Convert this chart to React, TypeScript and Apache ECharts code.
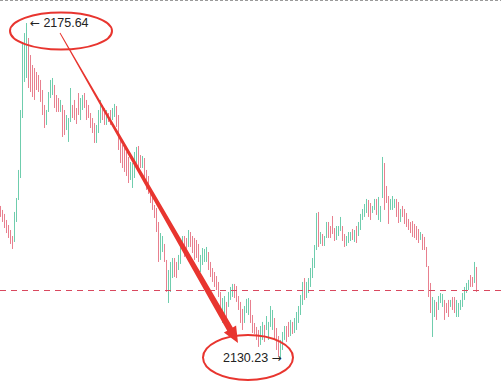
import React, { useEffect, useRef } from "react";
import * as echarts from "echarts";

// [open, close, low, high]
const candles: number[][] = [
  [2150.64, 2149.55, 2149.35, 2150.84],
  [2150.10, 2148.87, 2148.67, 2150.30],
  [2149.56, 2148.05, 2147.85, 2149.76],
  [2148.74, 2147.37, 2147.17, 2148.94],
  [2148.06, 2146.70, 2146.50, 2148.26],
  [2147.38, 2145.89, 2145.69, 2147.58],
  [2146.57, 2145.21, 2145.01, 2146.77],
  [2146.16, 2149.83, 2145.96, 2150.03],
  [2148.87, 2151.72, 2148.67, 2151.92],
  [2151.85, 2155.52, 2151.65, 2155.72],
  [2154.83, 2163.65, 2154.63, 2163.85],
  [2162.96, 2172.87, 2162.76, 2173.07],
  [2167.85, 2174.08, 2167.65, 2174.28],
  [2168.39, 2174.90, 2168.19, 2175.64],
  [2173.41, 2167.03, 2166.83, 2173.61],
  [2171.10, 2166.49, 2166.29, 2171.30],
  [2169.75, 2165.81, 2165.61, 2169.95],
  [2169.34, 2165.41, 2165.21, 2169.54],
  [2168.80, 2166.76, 2166.56, 2169.00],
  [2168.39, 2166.49, 2166.29, 2168.59],
  [2167.72, 2165.14, 2164.94, 2167.92],
  [2166.36, 2163.37, 2163.17, 2166.56],
  [2164.33, 2161.61, 2161.41, 2164.53],
  [2162.02, 2163.65, 2161.82, 2163.85],
  [2163.78, 2166.09, 2163.58, 2166.29],
  [2165.67, 2167.72, 2165.47, 2167.92],
  [2166.08, 2167.99, 2165.88, 2168.19],
  [2167.04, 2164.32, 2164.12, 2167.24],
  [2165.68, 2163.78, 2163.58, 2165.88],
  [2165.27, 2163.78, 2163.58, 2165.47],
  [2163.78, 2165.01, 2163.58, 2165.21],
  [2164.33, 2160.39, 2160.19, 2164.53],
  [2163.65, 2160.66, 2160.46, 2163.85],
  [2161.34, 2162.97, 2161.14, 2163.17],
  [2159.72, 2162.56, 2159.52, 2162.76],
  [2162.42, 2166.63, 2162.22, 2166.83],
  [2164.33, 2162.96, 2162.76, 2164.53],
  [2165.01, 2162.69, 2162.49, 2165.21],
  [2163.92, 2162.15, 2161.95, 2164.12],
  [2165.95, 2163.37, 2163.17, 2166.15],
  [2162.69, 2165.27, 2162.49, 2165.47],
  [2164.05, 2165.68, 2163.85, 2165.88],
  [2165.95, 2164.32, 2164.12, 2166.15],
  [2165.01, 2162.69, 2162.49, 2165.21],
  [2164.33, 2162.96, 2162.76, 2164.53],
  [2163.24, 2161.61, 2161.41, 2163.44],
  [2162.56, 2160.93, 2160.73, 2162.76],
  [2161.88, 2159.58, 2159.38, 2162.08],
  [2159.58, 2161.62, 2159.38, 2161.82],
  [2160.93, 2163.65, 2160.73, 2163.85],
  [2162.28, 2165.01, 2162.08, 2165.21],
  [2164.33, 2162.69, 2162.49, 2164.53],
  [2163.92, 2162.02, 2161.82, 2164.12],
  [2162.02, 2163.65, 2161.82, 2163.85],
  [2163.24, 2162.42, 2162.22, 2163.44],
  [2163.65, 2162.02, 2161.82, 2163.85],
  [2162.69, 2163.92, 2162.49, 2164.12],
  [2163.10, 2164.47, 2162.90, 2164.67],
  [2164.19, 2161.75, 2161.55, 2164.39],
  [2162.97, 2158.63, 2158.43, 2163.17],
  [2159.86, 2156.86, 2156.66, 2160.06],
  [2158.91, 2156.19, 2155.99, 2159.11],
  [2158.50, 2155.65, 2155.45, 2158.70],
  [2157.96, 2155.10, 2154.90, 2158.16],
  [2157.28, 2154.15, 2153.95, 2157.48],
  [2154.56, 2156.60, 2154.36, 2156.80],
  [2153.48, 2156.46, 2153.28, 2156.66],
  [2154.83, 2157.96, 2154.63, 2158.16],
  [2156.60, 2158.64, 2156.40, 2158.84],
  [2158.77, 2156.33, 2156.13, 2158.97],
  [2157.55, 2156.19, 2155.99, 2157.75],
  [2156.19, 2157.41, 2155.99, 2157.61],
  [2157.14, 2154.56, 2154.36, 2157.34],
  [2155.52, 2153.21, 2153.01, 2155.72],
  [2154.70, 2152.67, 2152.47, 2154.90],
  [2153.08, 2151.44, 2151.24, 2153.28],
  [2151.99, 2150.50, 2150.30, 2152.19],
  [2150.77, 2149.41, 2149.21, 2150.97],
  [2150.37, 2147.51, 2147.31, 2150.57],
  [2148.47, 2143.45, 2143.25, 2148.67],
  [2143.72, 2146.97, 2143.52, 2147.17],
  [2144.80, 2146.57, 2144.60, 2146.77],
  [2145.49, 2143.45, 2143.25, 2145.69],
  [2143.32, 2139.38, 2139.18, 2143.52],
  [2137.89, 2141.96, 2137.69, 2142.16],
  [2139.38, 2143.05, 2139.18, 2143.25],
  [2141.27, 2143.59, 2141.07, 2143.79],
  [2143.59, 2141.41, 2141.21, 2143.79],
  [2143.05, 2141.27, 2141.07, 2143.25],
  [2142.36, 2144.00, 2142.16, 2144.20],
  [2143.18, 2145.21, 2142.98, 2145.41],
  [2145.07, 2146.57, 2144.87, 2146.77],
  [2146.57, 2144.13, 2143.93, 2146.77],
  [2146.30, 2144.80, 2144.60, 2146.50],
  [2145.48, 2147.38, 2145.28, 2147.58],
  [2147.11, 2145.48, 2145.28, 2147.31],
  [2146.57, 2144.66, 2144.46, 2146.77],
  [2146.30, 2143.72, 2143.52, 2146.50],
  [2146.03, 2143.99, 2143.79, 2146.23],
  [2145.49, 2143.45, 2143.25, 2145.69],
  [2142.09, 2144.00, 2141.89, 2144.20],
  [2143.04, 2144.94, 2142.84, 2145.14],
  [2143.45, 2144.81, 2143.25, 2145.01],
  [2143.45, 2145.08, 2143.25, 2145.28],
  [2144.40, 2142.36, 2142.16, 2144.60],
  [2143.05, 2141.41, 2141.21, 2143.25],
  [2142.23, 2140.74, 2140.54, 2142.43],
  [2141.69, 2140.06, 2139.86, 2141.89],
  [2141.14, 2139.65, 2139.45, 2141.34],
  [2140.34, 2138.70, 2138.50, 2140.54],
  [2138.98, 2136.94, 2136.74, 2139.18],
  [2135.18, 2138.16, 2134.98, 2138.36],
  [2135.99, 2138.43, 2135.79, 2138.63],
  [2137.63, 2135.59, 2135.39, 2137.83],
  [2137.35, 2138.98, 2137.15, 2139.18],
  [2138.30, 2139.66, 2138.10, 2139.86],
  [2138.70, 2140.07, 2138.50, 2140.27],
  [2140.07, 2138.56, 2138.36, 2140.27],
  [2139.79, 2138.03, 2137.83, 2139.99],
  [2138.43, 2136.94, 2136.74, 2138.63],
  [2137.63, 2135.18, 2134.98, 2137.83],
  [2136.68, 2134.23, 2134.03, 2136.88],
  [2135.18, 2137.08, 2134.98, 2137.28],
  [2136.53, 2138.04, 2136.33, 2138.24],
  [2136.26, 2138.16, 2136.06, 2138.36],
  [2137.90, 2135.18, 2134.98, 2138.10],
  [2135.86, 2133.82, 2133.62, 2136.06],
  [2134.78, 2133.69, 2133.49, 2134.98],
  [2134.24, 2132.88, 2132.68, 2134.44],
  [2133.83, 2131.93, 2131.73, 2134.03],
  [2132.20, 2134.37, 2132.00, 2134.57],
  [2132.88, 2134.92, 2132.68, 2135.12],
  [2134.51, 2132.61, 2132.41, 2134.71],
  [2134.23, 2135.72, 2134.03, 2135.92],
  [2132.88, 2134.92, 2132.68, 2135.12],
  [2134.64, 2137.08, 2134.44, 2137.28],
  [2134.23, 2136.54, 2134.03, 2136.74],
  [2135.45, 2132.88, 2132.68, 2135.65],
  [2134.10, 2131.52, 2131.32, 2134.30],
  [2133.01, 2130.70, 2130.50, 2133.21],
  [2130.43, 2132.48, 2130.23, 2132.68],
  [2131.52, 2133.56, 2131.32, 2133.76],
  [2132.88, 2134.37, 2132.68, 2134.57],
  [2134.37, 2132.61, 2132.41, 2134.57],
  [2134.92, 2133.28, 2133.08, 2135.12],
  [2133.41, 2135.19, 2133.21, 2135.39],
  [2134.92, 2133.69, 2133.49, 2135.12],
  [2133.82, 2135.45, 2133.62, 2135.65],
  [2134.23, 2136.27, 2134.03, 2136.47],
  [2135.18, 2137.08, 2134.98, 2137.28],
  [2136.26, 2138.57, 2136.06, 2138.77],
  [2137.62, 2140.34, 2137.42, 2140.54],
  [2140.87, 2138.30, 2138.10, 2141.07],
  [2138.56, 2140.34, 2138.36, 2140.54],
  [2139.24, 2140.87, 2139.04, 2141.07],
  [2140.06, 2142.23, 2139.86, 2142.43],
  [2141.27, 2143.59, 2141.07, 2143.79],
  [2142.63, 2145.35, 2142.43, 2145.55],
  [2145.07, 2149.69, 2144.87, 2149.89],
  [2149.83, 2145.48, 2145.28, 2150.03],
  [2145.89, 2147.11, 2145.69, 2147.31],
  [2146.84, 2145.61, 2145.41, 2147.04],
  [2145.61, 2146.57, 2145.41, 2146.77],
  [2146.70, 2148.47, 2146.50, 2148.67],
  [2148.47, 2146.70, 2146.50, 2148.67],
  [2147.92, 2146.70, 2146.50, 2148.12],
  [2149.28, 2147.24, 2147.04, 2149.48],
  [2147.65, 2146.29, 2146.09, 2147.85],
  [2146.43, 2147.92, 2146.23, 2148.12],
  [2146.97, 2147.92, 2146.77, 2148.12],
  [2147.64, 2149.15, 2147.44, 2149.35],
  [2147.92, 2146.29, 2146.09, 2148.12],
  [2146.84, 2145.48, 2145.28, 2147.04],
  [2145.61, 2146.57, 2145.41, 2146.77],
  [2146.02, 2147.11, 2145.82, 2147.31],
  [2146.29, 2147.11, 2146.09, 2147.31],
  [2147.52, 2146.43, 2146.23, 2147.72],
  [2146.16, 2147.38, 2145.96, 2147.58],
  [2147.92, 2146.02, 2145.82, 2148.12],
  [2146.97, 2148.47, 2146.77, 2148.67],
  [2147.78, 2149.56, 2147.58, 2149.76],
  [2149.14, 2150.23, 2148.94, 2150.43],
  [2149.55, 2150.91, 2149.35, 2151.11],
  [2150.09, 2151.59, 2149.89, 2151.79],
  [2151.45, 2149.55, 2149.35, 2151.65],
  [2151.04, 2149.14, 2148.94, 2151.24],
  [2150.09, 2150.64, 2149.89, 2150.84],
  [2150.50, 2151.59, 2150.30, 2151.79],
  [2151.59, 2149.82, 2149.62, 2151.79],
  [2149.14, 2151.86, 2148.94, 2152.06],
  [2148.87, 2150.64, 2148.67, 2150.84],
  [2152.12, 2157.28, 2151.92, 2157.48],
  [2156.46, 2150.50, 2150.30, 2156.66],
  [2153.35, 2151.44, 2151.24, 2153.55],
  [2151.99, 2148.60, 2148.40, 2152.19],
  [2150.50, 2151.59, 2150.30, 2151.79],
  [2150.50, 2151.99, 2150.30, 2152.19],
  [2150.77, 2151.59, 2150.57, 2151.79],
  [2151.59, 2149.55, 2149.35, 2151.79],
  [2151.18, 2148.73, 2148.53, 2151.38],
  [2148.87, 2150.23, 2148.67, 2150.43],
  [2150.64, 2149.55, 2149.35, 2150.84],
  [2150.23, 2148.60, 2148.40, 2150.43],
  [2149.69, 2148.19, 2147.99, 2149.89],
  [2148.88, 2147.78, 2147.58, 2149.08],
  [2148.47, 2147.37, 2147.17, 2148.67],
  [2148.60, 2146.84, 2146.64, 2148.80],
  [2148.20, 2146.70, 2146.50, 2148.40],
  [2147.92, 2146.43, 2146.23, 2148.12],
  [2147.52, 2146.02, 2145.82, 2147.72],
  [2146.43, 2147.11, 2146.23, 2147.31],
  [2146.84, 2145.07, 2144.87, 2147.04],
  [2146.44, 2145.07, 2144.87, 2146.64],
  [2145.08, 2142.77, 2142.57, 2145.28],
  [2142.50, 2138.70, 2138.50, 2142.70],
  [2140.20, 2136.53, 2136.33, 2140.40],
  [2133.28, 2138.30, 2133.08, 2138.50],
  [2135.99, 2137.90, 2135.79, 2138.10],
  [2137.63, 2135.59, 2135.39, 2137.83],
  [2136.94, 2138.43, 2136.74, 2138.63],
  [2137.89, 2138.84, 2137.69, 2139.04],
  [2137.35, 2138.71, 2137.15, 2138.91],
  [2137.90, 2135.59, 2135.39, 2138.10],
  [2137.49, 2136.53, 2136.33, 2137.69],
  [2137.90, 2135.99, 2135.79, 2138.10],
  [2137.35, 2137.90, 2137.15, 2138.10],
  [2138.30, 2136.94, 2136.74, 2138.50],
  [2138.30, 2136.53, 2136.33, 2138.50],
  [2135.99, 2137.90, 2135.79, 2138.10],
  [2135.99, 2137.49, 2135.79, 2137.69],
  [2136.94, 2137.90, 2136.74, 2138.10],
  [2137.35, 2138.84, 2137.15, 2139.04],
  [2138.30, 2139.66, 2138.10, 2139.86],
  [2139.24, 2140.20, 2139.04, 2140.40],
  [2139.65, 2140.61, 2139.45, 2140.81],
  [2141.28, 2140.06, 2139.86, 2141.48],
  [2141.01, 2140.06, 2139.86, 2141.21],
  [2140.60, 2143.05, 2140.40, 2143.25],
  [2142.37, 2139.45, 2139.18, 2142.57],
];

const categories: string[] = candles.map((_, i) => String(i));

const highValue = "2175.64";
const lowValue = "2130.23";
const lastPrice = candles[candles.length - 1][1];

const yMin = 2126.57;
const yMax = 2178.76;

const UP = "#6fcdad";
const DOWN = "#e8808f";
const RED = "#e8352f";

const NUM_FONT = "Liberation Sans, Arial, sans-serif";
const ARROW_FONT = "DejaVu Sans, sans-serif";

export default function App() {
  const ref = useRef<HTMLDivElement>(null);

  useEffect(() => {
    document.body.style.margin = "0";
    if (!ref.current) return;
    const chart = echarts.init(ref.current, undefined, { renderer: "svg" });
    chart.setOption({
      animation: false,
      backgroundColor: "#ffffff",
      grid: { left: 0, right: 23, top: 0, bottom: 0 },
      xAxis: {
        type: "category",
        data: categories,
        show: false,
        boundaryGap: true,
      },
      yAxis: {
        type: "value",
        min: yMin,
        max: yMax,
        show: false,
        splitLine: { show: false },
      },
      series: [
        {
          type: "candlestick",
          data: candles,
          barWidth: 1,
          itemStyle: {
            color: UP,
            color0: DOWN,
            borderColor: UP,
            borderColor0: DOWN,
            borderWidth: 1,
          },
        },
      ],
    });

    const yLast = chart.convertToPixel({ yAxisIndex: 0 }, lastPrice) as number;

    const rich = {
      a: { fontFamily: ARROW_FONT, fontSize: 12, fill: "#222222" },
      b: { fontFamily: NUM_FONT, fontSize: 12.5, fill: "#222222" },
    };

    chart.setOption({
      graphic: [
        {
          type: "line",
          shape: { x1: 0, y1: 0.5, x2: 501, y2: 0.5 },
          style: { stroke: "#9a9a9a", lineWidth: 1, lineDash: [3, 2] },
          silent: true,
        },
        {
          type: "line",
          shape: { x1: 0, y1: Math.round(yLast) + 0.5, x2: 501, y2: Math.round(yLast) + 0.5 },
          style: { stroke: "#d9485f", lineWidth: 1, lineDash: [6, 5] },
          silent: true,
          z: 50,
        },
        {
          type: "polygon",
          shape: {
            points: [
              [60.4, 32.8],
              [232.8, 327.5],
              [236.1, 325.6],
              [238, 343],
              [223.9, 332.6],
              [227.2, 330.7],
              [59.6, 33.2],
            ],
          },
          style: { fill: RED },
          silent: true,
          z: 60,
        },
        {
          type: "ellipse",
          shape: { cx: 61, cy: 31, rx: 51, ry: 18.5 },
          style: { fill: "none", stroke: RED, lineWidth: 2 },
          silent: true,
          z: 60,
        },
        {
          type: "ellipse",
          shape: { cx: 248, cy: 357.5, rx: 45, ry: 22.5 },
          style: { fill: "none", stroke: RED, lineWidth: 2 },
          silent: true,
          z: 60,
        },
        {
          type: "text",
          x: 30,
          y: 23,
          style: {
            text: "{a|←} {b|" + highValue + "}",
            rich,
            verticalAlign: "middle",
            align: "left",
          },
          silent: true,
          z: 70,
        },
        {
          type: "text",
          x: 223,
          y: 358,
          style: {
            text: "{b|" + lowValue + "} {a|→}",
            rich,
            verticalAlign: "middle",
            align: "left",
          },
          silent: true,
          z: 70,
        },
      ],
    });

    return () => {
      chart.dispose();
    };
  }, []);

  return <div ref={ref} style={{ width: 501, height: 385 }} />;
}
